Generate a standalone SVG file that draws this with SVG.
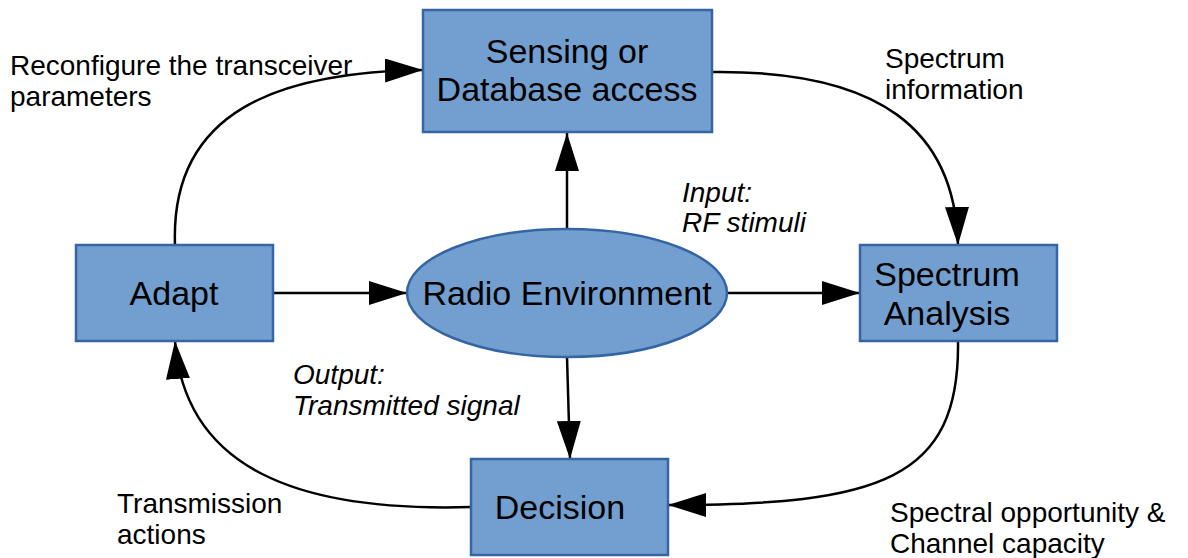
<svg xmlns="http://www.w3.org/2000/svg" width="1188" height="558" viewBox="0 0 1188 558">
<style>
.box{fill:#729fcf;stroke:#3465a4;stroke-width:2.5}
.nt{font-family:"Liberation Sans",Arial,sans-serif;font-size:34px;fill:#000;text-anchor:middle}
.lb{font-family:"Liberation Sans",Arial,sans-serif;font-size:28px;fill:#000}
.it{font-style:italic}
.c{fill:none;stroke:#000;stroke-width:2.5}
</style>
<defs>
<marker id="ah" markerUnits="userSpaceOnUse" markerWidth="40" markerHeight="26" refX="38" refY="12" orient="auto" viewBox="0 0 40 26">
<path d="M0,0 L38,12 L0,24 z" fill="#000"/>
</marker>
</defs>
<rect width="1188" height="558" fill="#fff"/>
<g id="connectors">
<path class="c" d="M175,245 C170,110 280,72 423,70" marker-end="url(#ah)"/>
<path class="c" d="M712,72 C880,70 955,130 958,245" marker-end="url(#ah)"/>
<path class="c" d="M958,341 C960,480 880,505 668,505" marker-end="url(#ah)"/>
<path class="c" d="M471,507 C300,512 185,470 175,341" marker-end="url(#ah)"/>
<path class="c" d="M567,229 L567,133" marker-end="url(#ah)"/>
<path class="c" d="M273,293 L407,293" marker-end="url(#ah)"/>
<path class="c" d="M727,293 L860,293" marker-end="url(#ah)"/>
<path class="c" d="M567,357 L570,459" marker-end="url(#ah)"/>
</g>
<g id="sensing">
<rect class="box" x="423" y="10" width="289" height="122"/>
<text class="nt" x="567" y="63">Sensing or</text>
<text class="nt" x="567" y="101">Database access</text>
</g>
<g id="adapt">
<rect class="box" x="76" y="245" width="197" height="96"/>
<text class="nt" x="174" y="305">Adapt</text>
</g>
<g id="analysis">
<rect class="box" x="860" y="245" width="197" height="96"/>
<text class="nt" x="947" y="286">Spectrum</text>
<text class="nt" x="947" y="325">Analysis</text>
</g>
<g id="decision">
<rect class="box" x="471" y="459" width="197" height="96"/>
<text class="nt" x="560" y="519">Decision</text>
</g>
<g id="radio">
<ellipse cx="567" cy="293" rx="160" ry="64" fill="#729fcf" stroke="#3465a4" stroke-width="2.5"/>
<text class="nt" x="567" y="305">Radio Environment</text>
</g>
<g id="labels">
<text class="lb" x="10" y="75">Reconfigure the transceiver</text>
<text class="lb" x="10" y="106">parameters</text>
<text class="lb" x="885" y="68">Spectrum</text>
<text class="lb" x="885" y="99">information</text>
<text class="lb it" x="682" y="202">Input:</text>
<text class="lb it" x="682" y="232">RF stimuli</text>
<text class="lb it" x="293" y="384">Output:</text>
<text class="lb it" x="293" y="415">Transmitted signal</text>
<text class="lb" x="117" y="513">Transmission</text>
<text class="lb" x="117" y="544">actions</text>
<text class="lb" x="890" y="522">Spectral opportunity &amp;</text>
<text class="lb" x="890" y="553">Channel capacity</text>
</g>
</svg>
